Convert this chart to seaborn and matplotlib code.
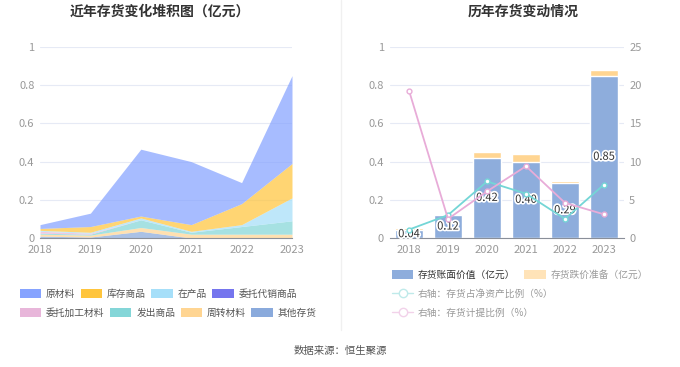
import numpy as np
import pandas as pd
import matplotlib
matplotlib.use("Agg")
import matplotlib.pyplot as plt
from matplotlib.patches import Patch
from matplotlib.lines import Line2D
import matplotlib.patheffects as pe
import seaborn as sns

sns.set_theme(style="white")
plt.rcParams['font.family'] = ['Noto Sans CJK SC', 'DejaVu Sans']

years = ["2018", "2019", "2020", "2021", "2022", "2023"]

# left chart: stacked inventory components (亿元), legend order
names = ["原材料", "库存商品", "在产品", "委托代销商品", "委托加工材料", "发出商品", "周转材料", "其他存货"]
raw_mat = [0.02, 0.07, 0.35, 0.33, 0.11, 0.46]
goods = [0.01, 0.03, 0.01, 0.035, 0.11, 0.18]
wip = [0.005, 0.005, 0.01, 0.005, 0.01, 0.12]
consign = [0.0, 0.0, 0.0, 0.0, 0.0, 0.0]
processing = [0.01, 0.005, 0.0, 0.0, 0.0, 0.0]
shipped = [0.005, 0.005, 0.04, 0.01, 0.04, 0.07]
turnover = [0.01, 0.01, 0.02, 0.02, 0.02, 0.02]
other = [0.01, 0.005, 0.035, 0.0, 0.0, 0.0]
colors = ["#86a3ff", "#ffc53d", "#a6dff9", "#7575ee", "#e8b6da", "#84d6d8", "#ffd592", "#8aaadc"]

# right chart
book_value = [0.04, 0.12, 0.42, 0.40, 0.29, 0.85]
provision = [0.01, 0.0, 0.03, 0.04, 0.01, 0.03]
ratio_net = [1.1, 3.0, 7.4, 5.8, 2.5, 7.0]
ratio_prov = [19.3, 2.5, 6.1, 9.4, 4.6, 3.1]
bar_labels = ["0.04", "0.12", "0.42", "0.40", "0.29", "0.85"]

grey = "#999999"
grid_c = "#e6eaf5"

fig = plt.figure(figsize=(6.8, 3.67), dpi=100)

# ---------- left: stacked area ----------
ax1 = fig.add_axes([40/680, 1-238/367, 252/680, 191/367])
series = [raw_mat, goods, wip, consign, processing, shipped, turnover, other]
xs = [int(y) for y in years]
ax1.stackplot(xs, *series[::-1], colors=colors[::-1], alpha=0.72, linewidth=0)
ax1.set_xlim(2018, 2023)
ax1.set_ylim(0, 1)
ax1.set_xticks(xs)
ax1.set_xticklabels(years)
ax1.set_yticks([0, 0.2, 0.4, 0.6, 0.8, 1])
ax1.set_yticklabels(["0", "0.2", "0.4", "0.6", "0.8", "1"])

# ---------- right: bars + lines ----------
ax2 = fig.add_axes([389.5/680, 1-238/367, 234/680, 191/367])
total = [b + p for b, p in zip(book_value, provision)]
df = pd.DataFrame({"year": years, "book": book_value, "total": total})
sns.barplot(data=df, x="year", y="total", color="#ffd592", width=0.7, saturation=1, ax=ax2)
sns.barplot(data=df, x="year", y="book", color="#8eaddc", width=0.7, saturation=1, ax=ax2)
for i, (v, t) in enumerate(zip(book_value, bar_labels)):
    ax2.text(i, v / 2, t, ha="center", va="center", fontsize=8, color="#333333",
             path_effects=[pe.withStroke(linewidth=2.5, foreground="white")], zorder=10)
ax2.set_ylim(0, 1)
ax2.set_xlim(-0.5, 5.5)
ax2.set_yticks([0, 0.2, 0.4, 0.6, 0.8, 1])
ax2.set_yticklabels(["0", "0.2", "0.4", "0.6", "0.8", "1"])
ax2.set_xlabel("")
ax2.set_ylabel("")

ax3 = ax2.twinx()
pos = np.arange(len(years))
sns.lineplot(x=pos, y=ratio_net, ax=ax3, color="#74d6d6", linewidth=1.3, marker="o",
             markersize=3.5, markerfacecolor="white", markeredgecolor="#74d6d6", markeredgewidth=1)
sns.lineplot(x=pos, y=ratio_prov, ax=ax3, color="#e8acd8", linewidth=1.3, marker="o",
             markersize=3.5, markerfacecolor="white", markeredgecolor="#e8acd8", markeredgewidth=1)
ax3.set_ylim(0, 25)
ax3.set_yticks([0, 5, 10, 15, 20, 25])
ax3.set_xlim(-0.5, 5.5)

for ax in (ax1, ax2, ax3):
    for s in ["top", "right", "left"]:
        ax.spines[s].set_visible(False)
    ax.spines["bottom"].set_color("#8a8f99")
    ax.spines["bottom"].set_linewidth(0.8)
    ax.tick_params(axis="both", labelsize=8, labelcolor=grey, length=0, pad=4)
    ax.tick_params(axis="x", length=4, color="#8a8f99", direction="out", width=0.8, pad=1)
    ax.grid(False)
for ax in (ax1, ax2):
    ax.yaxis.grid(True, color=grid_c, linewidth=0.8)
    ax.set_axisbelow(True)
ax3.spines["bottom"].set_visible(False)
ax3.tick_params(axis="x", length=0)
ax2.set_zorder(1)
ax3.set_zorder(2)
ax3.patch.set_visible(False)
ax2.set_xticks(pos)
ax2.set_xticklabels(years)

# titles
fig.text(160/680, 1-12/367, "近年存货变化堆积图（亿元）", ha="center", va="center",
         fontsize=10, fontweight="bold", color="#333333")
fig.text(523/680, 1-12/367, "历年存货变动情况", ha="center", va="center",
         fontsize=10, fontweight="bold", color="#333333")

# separator
fig.add_artist(Line2D([341/680, 341/680], [1-0/367, 1-330/367], color="#f0f0f0", linewidth=1))

# left legends
handles = [Patch(facecolor=c, edgecolor="none") for c in colors]
kw = dict(frameon=False, fontsize=7, handlelength=2.2, handleheight=1.1, handletextpad=0.5,
          borderaxespad=0, labelcolor="#555555")
leg1 = fig.legend(handles[:4], names[:4], loc="center left", ncol=4, columnspacing=0.55,
                  bbox_to_anchor=(16/680, 1-294/367), **kw)
leg2 = fig.legend(handles[4:], names[4:], loc="center left", ncol=4, columnspacing=0.55,
                  bbox_to_anchor=(16/680, 1-313/367), **kw)

# right legends
h_bar = [Patch(facecolor="#8eaddc", edgecolor="none"), Patch(facecolor="#ffe3b8", edgecolor="none")]
leg3 = fig.legend(h_bar, ["存货账面价值（亿元）", "存货跌价准备（亿元）"], loc="center left", ncol=2,
                  columnspacing=0.9, bbox_to_anchor=(388/680, 1-275/367), **kw)
leg3.get_texts()[0].set_color("#333333")
leg3.get_texts()[1].set_color(grey)
h_line = [Line2D([], [], color="#bfeaea", marker="o", markersize=6, markerfacecolor="white",
                 markeredgecolor="#bfeaea", linewidth=1),
          Line2D([], [], color="#f2d2ea", marker="o", markersize=6, markerfacecolor="white",
                 markeredgecolor="#f2d2ea", linewidth=1)]
leg4 = fig.legend(h_line[:1], ["右轴：存货占净资产比例（%）"], loc="center left",
                  bbox_to_anchor=(388/680, 1-294/367), **kw)
leg5 = fig.legend(h_line[1:], ["右轴：存货计提比例（%）"], loc="center left",
                  bbox_to_anchor=(388/680, 1-313/367), **kw)
for lg in (leg4, leg5):
    lg.get_texts()[0].set_color(grey)

fig.text(340/680, 1-351/367, "数据来源：恒生聚源", ha="center", va="center", fontsize=7.5, color="#555555")

fig.savefig("out.png", dpi=100, facecolor="white")
